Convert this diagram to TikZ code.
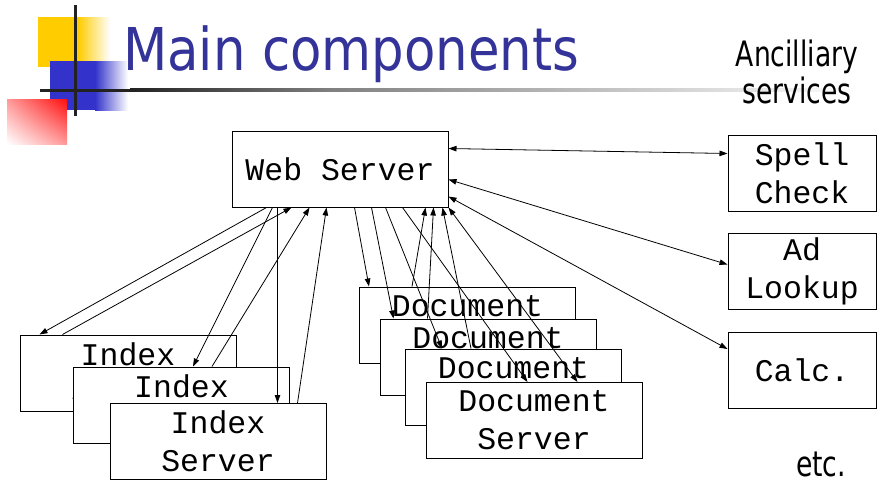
\documentclass[tikz,border=0pt]{standalone}
\usepackage{fontspec}
\setmainfont{DejaVu Sans}
\newfontfamily\titlefont[FakeStretch=0.87]{DejaVu Sans}
\newfontfamily\notefont[FakeStretch=0.76]{DejaVu Sans}
\newfontfamily\monofont{Liberation Mono}
\usetikzlibrary{arrows.meta,shadings}
\definecolor{titleblue}{RGB}{51,51,153}
\definecolor{sqyellow}{RGB}{255,204,0}
\definecolor{sqblue}{RGB}{51,51,204}
\definecolor{barcol}{RGB}{34,34,34}
\definecolor{barmid}{RGB}{128,128,128}

\begin{document}
\begin{tikzpicture}[x=1pt,y=-1pt,
  box/.style={draw=black, line width=1pt, fill=white, minimum width=216pt,
    minimum height=76pt, inner sep=0pt, align=center,
    font=\monofont\fontsize{31.5}{38}\selectfont},
  svc/.style={box, minimum width=148pt},
  tip/.tip={Triangle[length=8pt,width=5.5pt]},
  arr/.style={-tip, line width=0.8pt},
  darr/.style={tip-tip, line width=0.8pt}]
\useasboundingbox (0,0) rectangle (877,482);

% slide decoration: squares and bars
\fill[sqyellow] (38,17) rectangle (78,67);
\shade[left color=sqyellow, right color=white] (78,17) rectangle (110,67);
\fill[sqblue] (50,61) rectangle (95,110);
\shade[left color=sqblue, right color=white] (95,61) rectangle (128,110);
\shade[upper left=red!40!white, upper right=red!95!white,
       lower left=white, lower right=red!40!white] (7,99) rectangle (67,144);
\fill[barcol] (73.5,5) rectangle (76.5,116);
\fill[barcol] (40,88.5) rectangle (130,91.5);
\shade[left color=barcol, right color=barmid] (130,88.5) rectangle (330,91.5);
\shade[left color=barmid, right color=white] (330,88.5) rectangle (860,91.5);

% headings
\node[font=\titlefont\fontsize{59}{70}\selectfont, text=titleblue,
      anchor=base west, inner sep=0pt] (title) at (123,70) {Main components};
\node[font=\notefont\fontsize{35}{37}\selectfont, align=center, inner sep=0pt]
      (anc) at (797,72) {Ancilliary\\services};
\node[font=\notefont\fontsize{35}{40}\selectfont, anchor=base, inner sep=0pt]
      (etc) at (821,476) {etc.};

% components
\node[box] (web) at (340,169) {Web Server};
\node[svc] (spell) at (802,173) {Spell\\Check};
\node[svc] (ad) at (802,271) {Ad\\Lookup};
\node[svc] (calc) at (802,370.5) {Calc.};

\node[box] (idx1) at (128,373) {Index\\Server};
\node[box] (idx2) at (181.5,405) {Index\\Server};
\node[box] (idx3) at (218,441.5) {Index\\Server};

\node[box] (doc1) at (467.5,325) {Document\\Server};
\node[box] (doc2) at (488,357) {Document\\Server};
\node[box] (doc3) at (513.5,387) {Document\\Server};
\node[box] (doc4) at (534,420.5) {Document\\Server};

% web server <-> index servers
\draw[arr] ([xshift=35pt]web.south west) -- ([xshift=20pt]idx1.north west);
\draw[arr] ([xshift=43pt]idx1.north west) -- ([xshift=60pt]web.south west);
\draw[arr] ([xshift=41pt]web.south west) -- ([xshift=120pt]idx2.north west);
\draw[arr] ([xshift=139pt]idx2.north west) -- ([xshift=78pt]web.south west);
\draw[arr] ([xshift=46pt]web.south west) -- ([xshift=168pt]idx3.north west);
\draw[arr] ([xshift=188pt]idx3.north west) -- ([xshift=95pt]web.south west);

% web server <-> document servers
\draw[arr] ([xshift=123pt]web.south west) -- ([xshift=10pt]doc1.north west);
\draw[arr] ([xshift=140pt]web.south west) -- ([xshift=14pt]doc2.north west);
\draw[arr] ([xshift=154pt]web.south west) -- ([xshift=37pt]doc3.north west);
\draw[arr] ([xshift=171pt]web.south west) -- ([xshift=102pt]doc4.north west);
\draw[arr] ([xshift=53pt]doc1.north west) -- ([xshift=194pt]web.south west);
\draw[arr] ([xshift=48pt]doc2.north west) -- ([xshift=202pt]web.south west);
\draw[arr] ([xshift=66pt]doc3.north west) -- ([xshift=211pt]web.south west);
\draw[darr] (web.south east) -- ([xshift=152pt]doc4.north west);

% web server <-> ancillary services
\draw[darr] ([yshift=-18pt]web.north east) -- ([yshift=-19pt]spell.north west);
\draw[darr] ([yshift=-49pt]web.north east) -- ([yshift=-32pt]ad.north west);
\draw[darr] ([yshift=-66pt]web.north east) -- ([yshift=-17pt]calc.north west);
\end{tikzpicture}
\end{document}
